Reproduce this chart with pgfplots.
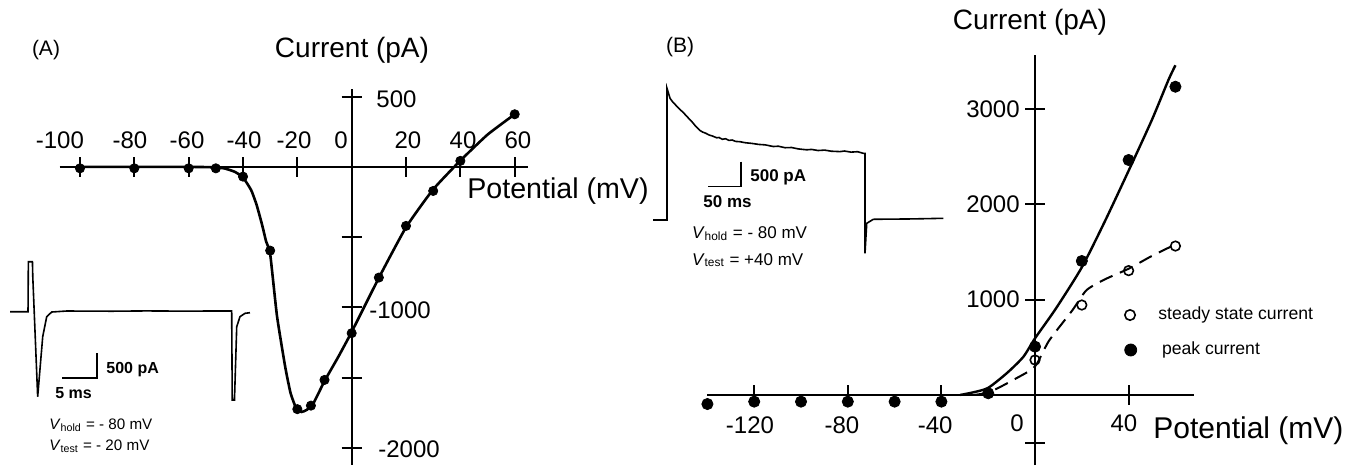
\documentclass[border=0pt]{standalone}
\usepackage{pgfplots}
\pgfplotsset{compat=1.18}
\usepackage{fontspec}
\setmainfont{Liberation Sans}
\newcommand{\fs}[1]{\fontsize{#1}{#1}\selectfont}
\begin{document}
\begin{tikzpicture}[x=1bp,y=1bp]
\useasboundingbox (0,0) rectangle (677.5,232.5);

%================ Panel A =================
\begin{axis}[
  at={(29.8bp,0.2bp)}, anchor=south west,
  x=1.3585bp, y=0.0702bp,
  xmin=-107.5, xmax=65, ymin=-2120, ymax=555,
  axis lines=middle, axis line style={line width=1bp,-},
  xtick={-100,-80,-60,-40,-20,20,40,60},
  ytick={-2000,-1500,-1000,-500,500},
  xticklabels={}, yticklabels={},
  tick style={line width=1bp,black}, major tick length=10bp, tick align=center,
  clip=false,
]
\addplot[line width=1.3bp, smooth, tension=0.3] coordinates {
(-100,0) (-60,0) (-52,-2) (-47,-10) (-43,-35) (-40,-75) (-37,-165) (-35,-270)
(-33,-410) (-31.5,-530) (-30,-620) (-27.5,-1060) (-24.5,-1420) (-22.5,-1610)
(-20.5,-1715) (-18.5,-1745) (-16.5,-1730) (-14,-1680) (-10,-1525) (-5,-1355)
(0,-1175) (10,-790) (20,-430) (30,-160) (40,45) (50,230) (60,375)};
\addplot[only marks, mark=*, mark size=2.3bp] coordinates {
(-100,-10) (-80,-10) (-60,-10) (-50,-10) (-40,-69) (-30,-596) (-20,-1725)
(-15,-1700) (-10,-1517) (0,-1184) (10,-788) (20,-420) (30,-171) (40,43) (60,375)};
% tick labels
\begin{scope}[every node/.style={font=\fs{12bp}, inner sep=0pt}]
\node at (axis cs:-107.4,190) {-100};
\node at (axis cs:-81.6,190) {-80};
\node at (axis cs:-60.6,190) {-60};
\node at (axis cs:-39.6,190) {-40};
\node at (axis cs:-21.2,190) {-20};
\node at (axis cs:-3.9,190) {0};
\node at (axis cs:20.7,190) {20};
\node at (axis cs:41,190) {40};
\node at (axis cs:61.2,190) {60};
\node at (axis cs:16.5,482) {500};
\node at (axis cs:17.8,-1021) {-1000};
\node at (axis cs:21.1,-2014) {-2000};
\end{scope}
\end{axis}

% Inset A trace
\begin{axis}[
  at={(5bp,31.65bp)}, anchor=south west,
  x=3.4bp, y=0.025bp,
  xmin=0, xmax=36, ymin=-1800, ymax=1000,
  hide axis, clip=false,
]
\addplot[line width=0.8bp] coordinates {
(0,0) (2.65,0) (2.7,1000) (3.3,1000) (3.35,700) (4.07,-1700) (4.81,-500) (5.40,-100)
(6.13,-6) (8.34,14) (15,10) (20,16) (25,12) (30,14) (32.6,14) (32.68,-1766)
(33.01,-1766) (33.34,-300) (33.82,-100) (34.56,-32) (35.29,-20)};
\draw[line width=0.7bp] (axis cs:12.79,-826) -- (axis cs:12.79,-1326) -- (axis cs:7.65,-1326);
\end{axis}

\node[font=\fs{8bp}\bfseries, anchor=base west, inner sep=0pt] at (53,45.85) {500 pA};
\node[font=\fs{8bp}\bfseries, anchor=base west, inner sep=0pt] at (27.5,33.35) {5 ms};
\node[font=\fs{7.6bp}, anchor=base west, inner sep=0pt] at (24.5,17.85) {\textit{V}\textsubscript{hold} = - 80 mV};
\node[font=\fs{7.6bp}, anchor=base west, inner sep=0pt] at (24.5,7.5) {\textit{V}\textsubscript{test} = - 20 mV};

\node[font=\fs{10.5bp}] at (23,207.5) {(A)};
\node[font=\fs{14bp}] at (176,207.5) {Current (pA)};
\node[font=\fs{14.3bp}, anchor=base west, inner sep=0pt] at (233.5,133.5) {Potential (mV)};

%================ Panel B =================
\begin{axis}[
  at={(353.7bp,0bp)}, anchor=south west,
  x=1.17bp, y=0.04765bp,
  xmin=-140, xmax=68, ymin=-735, ymax=3568,
  axis lines=middle, axis line style={line width=1bp,-},
  xtick={-120,-80,-40,40},
  ytick={-500,1000,2000,3000},
  xticklabels={}, yticklabels={},
  tick style={line width=1bp,black}, major tick length=10bp, tick align=center,
  clip=false,
]
\addplot[line width=1.2bp, smooth, tension=0.4] coordinates {
(-32,0) (-26,30) (-20,75) (-12,230) (-5,400) (0,595) (9,910) (20,1340) (30,1830)
(40.5,2380) (50,2890) (57,3305) (60,3460)};
\addplot[line width=1bp, dash pattern=on 7bp off 4bp, smooth, tension=0.4] coordinates {
(-26,0) (-19,35) (-8,175) (0,300) (6,570) (16,890) (22,1100) (30,1215) (40,1325)
(50,1460) (60,1580)};
\addplot[only marks, mark=o, mark size=2.4bp, mark options={line width=0.8bp, fill=white}] coordinates {
(0,367) (20,944) (40,1305) (60,1563)};
\addplot[only marks, mark=*, mark size=2.8bp] coordinates {
(-140,-95) (-120,-70) (-100,-70) (-80,-70) (-60,-70) (-40,-70) (-20,18) (0,507)
(20,1406) (40,2466) (60,3235)};
% legend markers
\addplot[only marks, mark=o, mark size=2.6bp, mark options={line width=0.8bp}] coordinates {(40.6,839)};
\addplot[only marks, mark=*, mark size=3bp] coordinates {(40.9,472)};
\begin{scope}[every node/.style={font=\fs{12bp}, inner sep=0pt}]
\node at (axis cs:-121.8,-315) {-120};
\node at (axis cs:-82.5,-315) {-80};
\node at (axis cs:-42.7,-315) {-40};
\node at (axis cs:-7.7,-294) {0};
\node at (axis cs:38,-294) {40};
\node[anchor=east] at (axis cs:-6.4,3001) {3000};
\node[anchor=east] at (axis cs:-6.4,2004) {2000};
\node[anchor=east] at (axis cs:-6.4,1007) {1000};
\end{scope}
\end{axis}

% Inset B trace
\begin{axis}[
  at={(326.5bp,105bp)}, anchor=south west,
  x=0.33bp, y=0.025bp,
  xmin=0, xmax=440, ymin=-700, ymax=2700,
  hide axis, clip=false,
]
\addplot[line width=0.8bp] coordinates {
(0,0) (21.2,0) (21.2,2634) (25.8,2434) (30,2360) (35,2290) (40,2220) (45.9,2150)
(50,2090) (55,2020) (60,1950) (65,1870) (71.2,1790) (75,1760) (80,1735) (85,1700)
(90,1680) (96.5,1645) (100,1650) (105,1615) (110,1625) (115,1592) (120,1600)
(125,1572) (131.8,1566) (140,1545) (150,1532) (160,1512) (170,1503) (182.3,1470)
(190,1476) (200,1446) (210,1450) (220,1422) (232.9,1404) (240,1412) (250,1390)
(260,1398) (270,1376) (283.3,1368) (290,1380) (300,1358) (310,1366) (318.6,1334)
(321.2,1334) (321.2,-666) (323.8,-66) (333.8,14) (360,18) (384.4,20) (410,26) (439.8,34)};
\draw[line width=0.7bp] (axis cs:133.3,1166) -- (axis cs:133.3,666) -- (axis cs:83.8,666);
\end{axis}

\node[font=\fs{8.5bp}\bfseries, anchor=base west, inner sep=0pt] at (375,141.65) {500 pA};
\node[font=\fs{8.5bp}\bfseries, anchor=base west, inner sep=0pt] at (351.5,128.65) {50 ms};
\node[font=\fs{8.5bp}, anchor=base west, inner sep=0pt] at (345.8,113.3) {\textit{V}\textsubscript{hold} = - 80 mV};
\node[font=\fs{8.5bp}, anchor=base west, inner sep=0pt] at (345.8,100) {\textit{V}\textsubscript{test} = +40 mV};

\node[font=\fs{8.8bp}, anchor=west, inner sep=0pt] at (579,75) {steady state current};
\node[font=\fs{8.8bp}, anchor=west, inner sep=0pt] at (580.85,57.5) {peak current};

\node[font=\fs{10.5bp}] at (340,209) {(B)};
\node[font=\fs{14bp}] at (515,221.25) {Current (pA)};
\node[font=\fs{15bp}, anchor=base west, inner sep=0pt] at (576.5,13.35) {Potential (mV)};
\end{tikzpicture}
\end{document}
